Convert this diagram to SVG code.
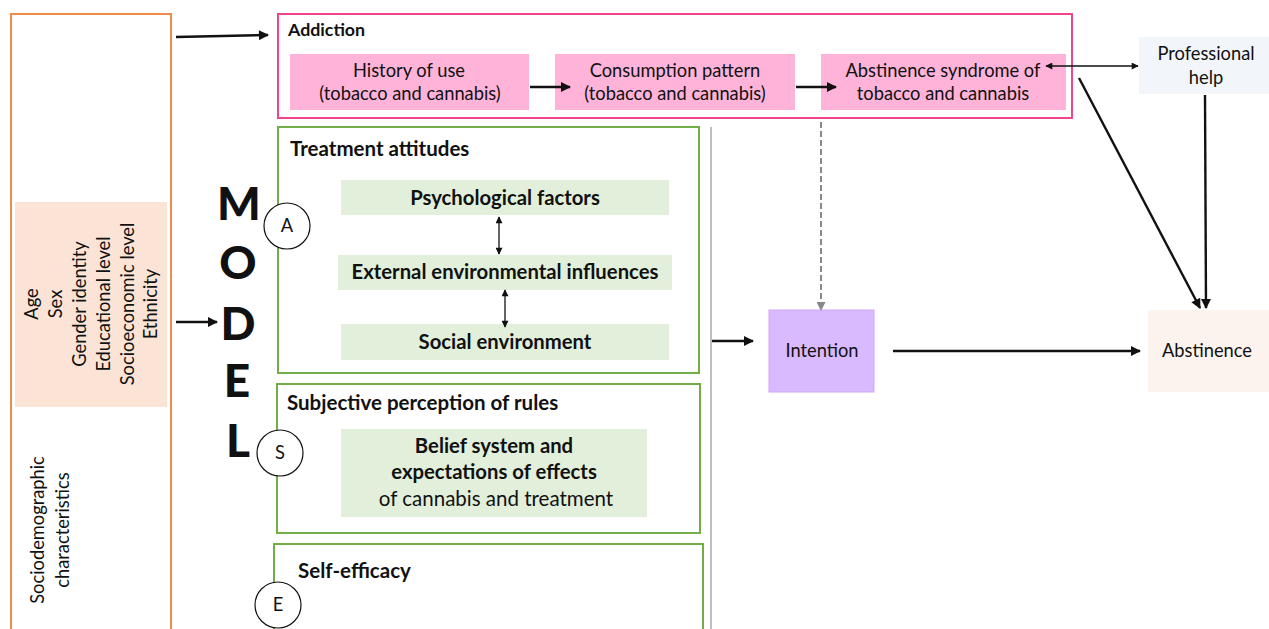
<svg xmlns="http://www.w3.org/2000/svg" width="1269" height="629" viewBox="0 0 1269 629">
<defs>
<style>
text{font-family:Lato,"Open Sans","Liberation Sans",sans-serif;fill:#111;}
.t{font-size:18.3px;}
.tl{font-size:20.5px;}
.b{font-size:20.3px;font-weight:bold;}
.h{font-size:20.5px;font-weight:bold;}
.m{font-size:46px;font-weight:900;text-anchor:middle;}
.c{text-anchor:middle;}
.v{font-size:18.3px;text-anchor:middle;}
.pk{fill:#FFB3D8;}
.gf{fill:#E2EFDA;}
.gb{fill:#fff;stroke:#72AE47;stroke-width:2;}
.cir{fill:#fff;stroke:#111;stroke-width:1.2;}
.ar{stroke:#111;stroke-width:2.4;fill:none;}
.ar2{stroke:#111;stroke-width:1.3;fill:none;}
</style>
<marker id="ah" viewBox="0 0 10 10" refX="9" refY="5" markerWidth="13" markerHeight="10" markerUnits="userSpaceOnUse" orient="auto"><path d="M0,0 L10,5 L0,10 z" fill="#111"/></marker>
<marker id="ahs" viewBox="0 0 10 10" refX="9" refY="5" markerWidth="9" markerHeight="7" markerUnits="userSpaceOnUse" orient="auto-start-reverse"><path d="M0,0 L10,5 L0,10 z" fill="#111"/></marker>
<marker id="ahg" viewBox="0 0 10 10" refX="9" refY="5" markerWidth="10" markerHeight="9" markerUnits="userSpaceOnUse" orient="auto"><path d="M0,0 L10,5 L0,10 z" fill="#888"/></marker>
</defs>
<rect width="1269" height="629" fill="#fff"/>

<g id="sociodemographic">
<rect x="11" y="14" width="160" height="630" fill="#fff" stroke="#F28A48" stroke-width="2"/>
<rect x="15" y="202" width="152" height="205" fill="#FBE4D6"/>
<g class="v">
<text transform="translate(38,304) rotate(-90)">Age</text>
<text transform="translate(62,304) rotate(-90)">Sex</text>
<text transform="translate(86,304) rotate(-90)">Gender identity</text>
<text transform="translate(110,304) rotate(-90)">Educational level</text>
<text transform="translate(134,304) rotate(-90)">Socioeconomic level</text>
<text transform="translate(157,304) rotate(-90)">Ethnicity</text>
<text transform="translate(44,530) rotate(-90)">Sociodemographic</text>
<text transform="translate(69,530) rotate(-90)">characteristics</text>
</g>
</g>

<g id="model-label">
<text class="m" x="239" y="220">M</text>
<text class="m" x="238" y="279">O</text>
<text class="m" x="238" y="340">D</text>
<text class="m" x="237" y="397">E</text>
<text class="m" x="238" y="457">L</text>
</g>

<g id="addiction">
<rect x="278" y="14" width="794" height="104" fill="#fff" stroke="#F0448F" stroke-width="2"/>
<text x="288" y="36" style="font-size:17.8px;font-weight:bold">Addiction</text>
</g>
<g id="history">
<rect class="pk" x="290" y="54" width="239" height="56"/>
<text class="t c" x="409" y="77">History of use</text>
<text class="t c" x="410" y="100">(tobacco and cannabis)</text>
</g>
<g id="consumption">
<rect class="pk" x="555" y="54" width="240" height="56"/>
<text class="t c" x="675" y="77">Consumption pattern</text>
<text class="t c" x="675" y="100">(tobacco and cannabis)</text>
</g>
<g id="syndrome">
<rect class="pk" x="821" y="54" width="245" height="56"/>
<text class="t c" x="943" y="77">Abstinence syndrome of</text>
<text class="t c" x="943" y="100">tobacco and cannabis</text>
</g>
<g id="professional">
<rect x="1139" y="37" width="130" height="57" fill="#F2F6FA"/>
<text class="t c" x="1206" y="60">Professional</text>
<text class="t c" x="1206" y="84">help</text>
</g>

<g id="treatment-attitudes">
<rect class="gb" x="278" y="127" width="421" height="246"/>
<text class="h" x="290" y="156">Treatment attitudes</text>
</g>
<g id="psychological">
<rect class="gf" x="341" y="180" width="328" height="35"/>
<text class="b c" x="505" y="205">Psychological factors</text>
</g>
<g id="external">
<rect class="gf" x="338" y="255" width="334" height="35"/>
<text class="b c" x="505" y="279">External environmental influences</text>
</g>
<g id="social">
<rect class="gf" x="341" y="324" width="328" height="36"/>
<text class="b c" x="505" y="349">Social environment</text>
</g>
<g id="circle-A">
<circle class="cir" cx="287" cy="226" r="23"/>
<text class="t c" x="287" y="232">A</text>
</g>

<g id="subjective">
<rect class="gb" x="277" y="384" width="423" height="149"/>
<text class="h" x="287" y="410">Subjective perception of rules</text>
</g>
<g id="belief">
<rect class="gf" x="341" y="429" width="306" height="88"/>
<text class="b c" x="494" y="453">Belief system and</text>
<text class="b c" x="494" y="479">expectations of effects</text>
<text class="tl c" x="496" y="506">of cannabis and treatment</text>
</g>
<g id="circle-S">
<circle class="cir" cx="280" cy="453" r="23"/>
<text class="t c" x="280" y="459">S</text>
</g>

<g id="self-efficacy">
<rect class="gb" x="274" y="544" width="429" height="100"/>
<text class="h" x="298" y="578">Self-efficacy</text>
</g>
<g id="circle-E">
<circle class="cir" cx="278" cy="605" r="23"/>
<text class="t c" x="278" y="611">E</text>
</g>

<g id="intention">
<rect x="769" y="310" width="105" height="82" fill="#D9B9FF" stroke="#CDA6FA" stroke-width="1"/>
<text class="t c" x="822" y="357">Intention</text>
</g>
<g id="abstinence">
<rect x="1148" y="310" width="121" height="82" fill="#FDF3EE"/>
<text class="t c" x="1207" y="357">Abstinence</text>
</g>

<g id="connectors">
<line class="ar" x1="176" y1="37" x2="268" y2="35" marker-end="url(#ah)"/>
<line class="ar" x1="176" y1="322" x2="217" y2="322" marker-end="url(#ah)"/>
<line class="ar" x1="530" y1="87" x2="570" y2="87" marker-end="url(#ah)"/>
<line class="ar" x1="796" y1="87" x2="836" y2="87" marker-end="url(#ah)"/>
<line class="ar2" x1="1046" y1="66" x2="1138" y2="66" marker-start="url(#ahs)" marker-end="url(#ahs)"/>
<line class="ar" x1="1079" y1="78" x2="1200" y2="308" marker-end="url(#ah)"/>
<line class="ar" x1="1205" y1="95" x2="1206" y2="308" marker-end="url(#ah)"/>
<line x1="821" y1="122" x2="821" y2="310" stroke="#888" stroke-width="2" stroke-dasharray="6,3" marker-end="url(#ahg)"/>
<line class="ar2" x1="499" y1="217" x2="499" y2="254" marker-start="url(#ahs)" marker-end="url(#ahs)"/>
<line class="ar2" x1="505" y1="290" x2="505" y2="327" marker-start="url(#ahs)" marker-end="url(#ahs)"/>
<line x1="711" y1="127" x2="711" y2="629" stroke="#A8A8A8" stroke-width="1.5"/>
<line class="ar" x1="712" y1="341" x2="753" y2="341" marker-end="url(#ah)"/>
<line class="ar" x1="893" y1="351" x2="1140" y2="351" marker-end="url(#ah)"/>
</g>
</svg>
